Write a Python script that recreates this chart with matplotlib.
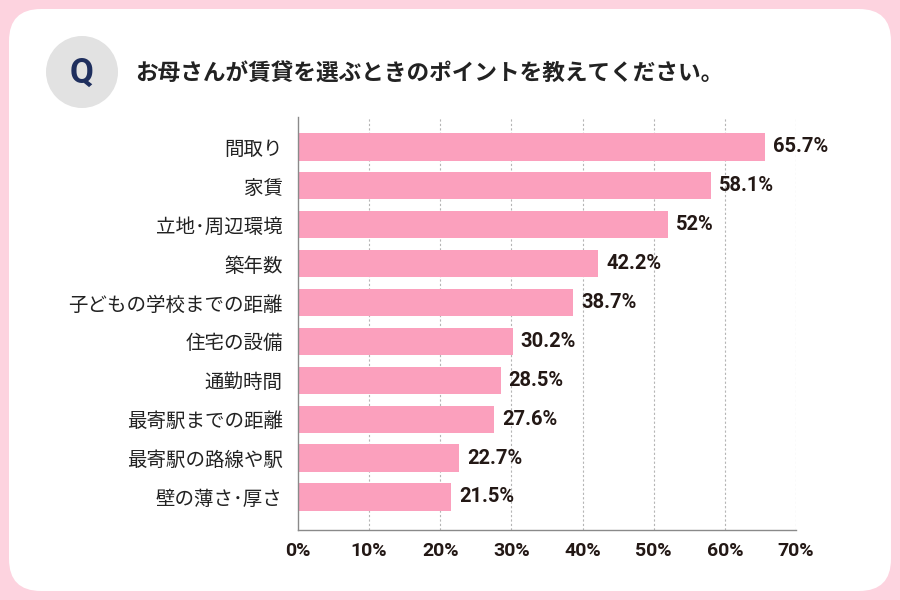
import matplotlib.pyplot as plt
from matplotlib.patches import FancyBboxPatch, Circle

labels = ["間取り", "家賃", "立地･周辺環境", "築年数", "子どもの学校までの距離",
          "住宅の設備", "通勤時間", "最寄駅までの距離", "最寄駅の路線や駅", "壁の薄さ･厚さ"]
values = [65.7, 58.1, 52, 42.2, 38.7, 30.2, 28.5, 27.6, 22.7, 21.5]
value_text = ["65.7%", "58.1%", "52%", "42.2%", "38.7%", "30.2%", "28.5%", "27.6%", "22.7%", "21.5%"]
ticks = [0, 10, 20, 30, 40, 50, 60, 70]

jp = ["Noto Sans CJK JP", "DejaVu Sans"]
num = ["Roboto", "DejaVu Sans"]
pink = "#fba0bd"

fig = plt.figure(figsize=(9, 6), dpi=100)
fig.patch.set_facecolor("#fdd3df")

# background frame in pixel coords
bg = fig.add_axes([0, 0, 1, 1], zorder=0)
bg.set_xlim(0, 900)
bg.set_ylim(600, 0)
bg.axis("off")
bg.add_patch(FancyBboxPatch((9 + 32, 9 + 32), 882 - 64, 582 - 64,
                            boxstyle="round,pad=32", fc="white", ec="none"))
bg.add_patch(Circle((82, 72), 36, fc="#e2e2e2", ec="none"))
bg.text(82, 73, "Q", ha="center", va="center", fontsize=25, fontweight="bold",
        color="#1f2f5e", family=num)
bg.text(135, 73, "お母さんが賃貸を選ぶときのポイントを教えてください。", ha="left", va="center",
        fontsize=16.3, fontweight="bold", color="#222222", family=jp)

ax = fig.add_axes([298 / 900, 70 / 600, 498 / 900, 413 / 600], zorder=1)
ax.patch.set_alpha(0)
pos = list(range(len(labels)))
ax.barh(pos, values, height=0.7, color=pink, zorder=2)
for p, v, t in zip(pos, values, value_text):
    ax.text(v + 1.1, p, t, ha="left", va="center", fontsize=14.5, fontweight="bold",
            color="#231815", family=num)

ax.set_xlim(0, 70)
ax.set_ylim(9.85, -0.77)
ax.set_yticks(pos)
ax.set_yticklabels(labels, family=jp, fontsize=14, color="#222222")
ax.set_xticks(ticks)
ax.set_xticklabels([f"{t}%" for t in ticks], family=num, fontsize=14,
                   fontweight="bold", color="#231815")
ax.tick_params(length=0)
ax.tick_params(axis="y", pad=11)
ax.tick_params(axis="x", pad=9)
for t in ticks[1:]:
    ax.axvline(t, color="#b5b5b5", lw=0.8, ls=(0, (2, 2)), zorder=1)
for s in ["top", "right"]:
    ax.spines[s].set_visible(False)
for s in ["left", "bottom"]:
    ax.spines[s].set_color("#8a8a8a")
    ax.spines[s].set_linewidth(1)

fig.savefig("out.png", dpi=100, facecolor=fig.get_facecolor())
